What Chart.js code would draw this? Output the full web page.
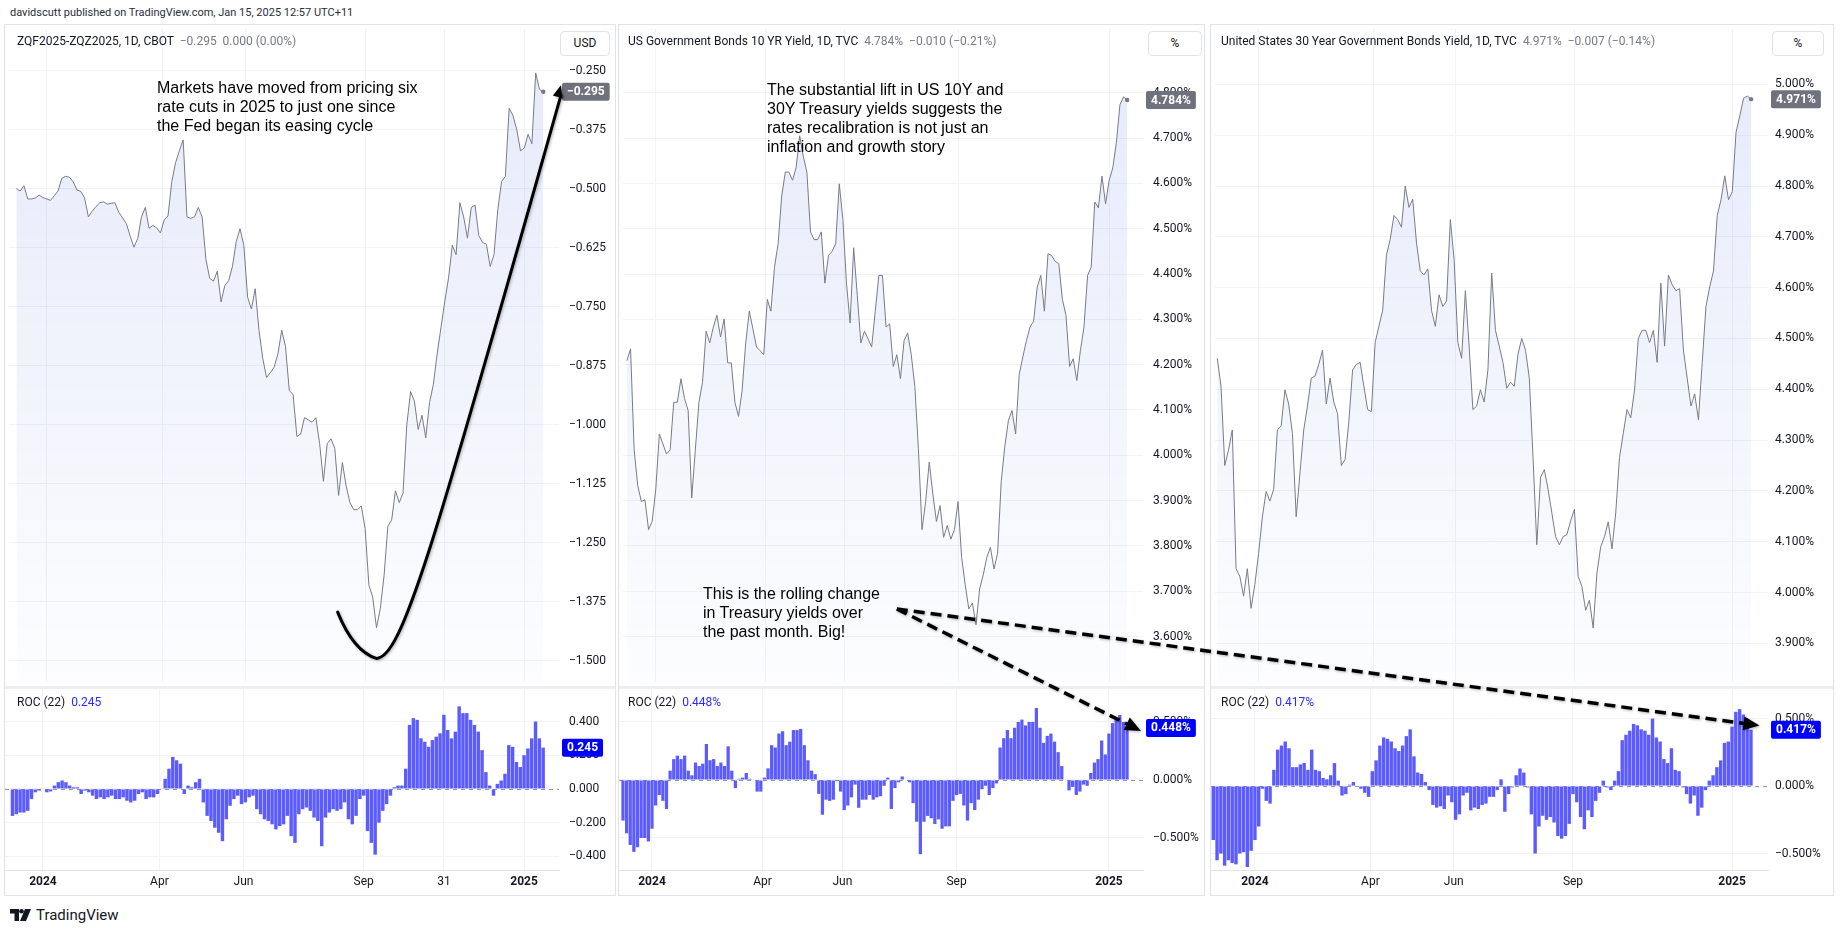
<!DOCTYPE html>
<html>
<head>
<meta charset="utf-8">
<title>Fed pricing vs Treasury yields</title>
<script src="https://cdn.jsdelivr.net/npm/chart.js@4.4.1/dist/chart.umd.min.js"></script>
<style>
  html, body { margin: 0; padding: 0; background: #fff; }
  body { width: 1841px; height: 931px; position: relative; overflow: hidden;
         font-family: Roboto, "Noto Sans", sans-serif; color: #131722; }
  .hdr { position: absolute; left: 10px; top: 5px; font-size: 11px; line-height: 15px; color: #2a2e39; }
  .panel { position: absolute; top: 24px; height: 872px; border: 1px solid #e0e3eb; box-sizing: border-box; }
  .panel canvas { position: absolute; left: 0; }
  .sep { position: absolute; left: 0; right: 0; top: 661px; height: 3px; background: #eceef3; }
  .legend { position: absolute; font-size: 12px; line-height: 16px; white-space: pre; z-index: 2; }
  .legend .v { color: #787b86; }
  .legend .b { color: #2a2aff; }
  .unit { position: absolute; top: 6px; height: 25px; border: 1px solid #e0e3eb; border-radius: 4px;
          box-sizing: border-box; font-size: 12px; line-height: 23px; text-align: center; background: #fff; z-index: 2; }
  .note { position: absolute; font-family: "Liberation Sans", Arial, sans-serif; font-size: 16px; line-height: 19px;
          color: #000; white-space: nowrap; z-index: 3; }
  #overlay { position: absolute; left: 0; top: 0; z-index: 4; pointer-events: none; }
  .logo { position: absolute; left: 10px; top: 906px; height: 18px; display: flex; align-items: center; gap: 5px;
          font-size: 15px; color: #131722; }
</style>
</head>
<body>
<div class="hdr">davidscutt published on TradingView.com, Jan 15, 2025 12:57 UTC+11</div>
<div id="panels"></div>
<div class="note" style="left:157px; top:78px;">Markets have moved from pricing six<br>rate cuts in 2025 to just one since<br>the Fed began its easing cycle</div>
<div class="note" style="left:767px; top:80px;">The substantial lift in US 10Y and<br>30Y Treasury yields suggests the<br>rates recalibration is not just an<br>inflation and growth story</div>
<div class="note" style="left:703px; top:584px;">This is the rolling change<br>in Treasury yields over<br>the past month. Big!</div>
<canvas id="overlay" width="1841" height="931"></canvas>
<div class="logo">
  <svg width="21" height="12" viewBox="0 0 21 12"><path d="M0 0h9v12H4.5V4.5H0z" fill="#131722"/><circle cx="11.5" cy="2.3" r="2.3" fill="#131722"/><path d="M15 0h6l-5 12h-6z" fill="#131722"/></svg>
  <span>TradingView</span>
</div>

<script>
// values, one every 2nd trading day
// x = trading days counted from 2 Jan 2024
const zqStart = -16;
const zqSpread = [
  -0.500, -0.505, -0.494, -0.522, -0.522, -0.520, -0.514, -0.519, -0.522, -0.525,
  -0.515, -0.505, -0.478, -0.474, -0.476, -0.486, -0.503, -0.506, -0.520, -0.560,
  -0.548, -0.538, -0.530, -0.528, -0.533, -0.531, -0.530, -0.550, -0.562, -0.574,
  -0.600, -0.624, -0.606, -0.560, -0.540, -0.584, -0.578, -0.583, -0.594, -0.566,
  -0.558, -0.485, -0.445, -0.420, -0.397, -0.560, -0.563, -0.560, -0.540, -0.560,
  -0.650, -0.690, -0.696, -0.675, -0.740, -0.705, -0.695, -0.665, -0.612, -0.585,
  -0.620, -0.730, -0.755, -0.712, -0.800, -0.860, -0.900, -0.890, -0.878, -0.850,
  -0.800, -0.835, -0.928, -0.936, -1.025, -1.020, -0.985, -0.990, -0.995, -0.985,
  -1.040, -1.120, -1.040, -1.030, -1.050, -1.150, -1.080, -1.130, -1.165, -1.180,
  -1.180, -1.172, -1.220, -1.340, -1.365, -1.430, -1.390, -1.320, -1.215, -1.202,
  -1.140, -1.165, -1.145, -1.000, -0.930, -0.950, -1.010, -0.980, -1.028, -0.953,
  -0.915, -0.850, -0.795, -0.740, -0.690, -0.620, -0.640, -0.530, -0.560, -0.605,
  -0.540, -0.535, -0.600, -0.614, -0.618, -0.665, -0.640, -0.545, -0.485, -0.474,
  -0.330, -0.345, -0.375, -0.420, -0.414, -0.385, -0.405, -0.255, -0.290, -0.295
];
const zqRoc = [
  -0.16, -0.15, -0.14, -0.14, -0.13, -0.06, -0.02, -0.01, 0.00, -0.02,
  -0.015, 0.02, 0.04, 0.05, 0.04, 0.02, 0.01, 0.01, -0.03, -0.01,
  -0.02, -0.04, -0.06, -0.05, -0.06, -0.05, -0.04, -0.06, -0.06, -0.05,
  -0.07, -0.08, -0.07, -0.03, -0.02, -0.06, -0.05, -0.05, -0.03, 0.00,
  0.06, 0.12, 0.19, 0.17, 0.15, -0.03, 0.02, 0.01, 0.04, 0.06,
  -0.08, -0.16, -0.19, -0.23, -0.26, -0.31, -0.18, -0.10, -0.06, -0.04,
  -0.09, -0.08, -0.05, -0.04, -0.12, -0.15, -0.18, -0.19, -0.21, -0.24,
  -0.22, -0.21, -0.16, -0.28, -0.32, -0.15, -0.12, -0.11, -0.13, -0.17,
  -0.19, -0.34, -0.17, -0.14, -0.12, -0.13, -0.12, -0.08, -0.18, -0.21,
  -0.16, -0.06, -0.04, -0.25, -0.32, -0.39, -0.20, -0.13, -0.09, -0.04,
  0.01, 0.02, 0.02, 0.12, 0.38, 0.42, 0.41, 0.30, 0.28, 0.25,
  0.29, 0.31, 0.33, 0.44, 0.35, 0.30, 0.34, 0.49, 0.45, 0.45,
  0.41, 0.38, 0.34, 0.23, 0.10, 0.02, -0.04, 0.03, 0.05, 0.09,
  0.26, 0.25, 0.16, 0.13, 0.20, 0.24, 0.30, 0.40, 0.30, 0.245
];

const us10Start = -16;
const us10Yield = [
  4.209, 4.235, 4.012, 3.933, 3.898, 3.902, 3.836, 3.854, 3.924, 4.047,
  4.025, 4.003, 4.012, 4.117, 4.117, 4.169, 4.125, 4.099, 3.906, 4.012,
  4.117, 4.161, 4.274, 4.248, 4.283, 4.309, 4.261, 4.301, 4.204, 4.204,
  4.117, 4.086, 4.143, 4.248, 4.318, 4.279, 4.239, 4.231, 4.222, 4.344,
  4.318, 4.415, 4.467, 4.572, 4.625, 4.625, 4.607, 4.634, 4.705, 4.660,
  4.625, 4.493, 4.476, 4.476, 4.493, 4.380, 4.441, 4.450, 4.467, 4.599,
  4.520, 4.380, 4.292, 4.458, 4.353, 4.248, 4.274, 4.257, 4.239, 4.318,
  4.397, 4.397, 4.283, 4.290, 4.196, 4.222, 4.169, 4.253, 4.270, 4.222,
  4.152, 4.012, 3.836, 3.898, 3.985, 3.915, 3.854, 3.889, 3.819, 3.845,
  3.815, 3.836, 3.898, 3.775, 3.714, 3.661, 3.674, 3.626, 3.705, 3.736,
  3.775, 3.797, 3.749, 3.784, 3.942, 4.020, 4.077, 4.099, 4.047, 4.178,
  4.217, 4.253, 4.283, 4.296, 4.371, 4.397, 4.318, 4.445, 4.441, 4.428,
  4.423, 4.344, 4.309, 4.196, 4.213, 4.165, 4.231, 4.283, 4.397, 4.415,
  4.559, 4.546, 4.616, 4.555, 4.607, 4.634, 4.690, 4.774, 4.791, 4.784
];
const us10Roc = [
  -0.35, -0.46, -0.56, -0.62, -0.58, -0.50, -0.50, -0.53, -0.42, -0.22,
  -0.13, -0.18, -0.25, 0.08, 0.18, 0.21, 0.18, 0.21, 0.08, 0.04,
  0.15, 0.12, 0.14, 0.31, 0.17, 0.18, 0.12, 0.15, 0.12, 0.29,
  0.08, -0.07, 0.01, 0.02, 0.06, 0.01, 0.00, -0.10, -0.10, 0.02,
  0.10, 0.30, 0.28, 0.40, 0.42, 0.30, 0.33, 0.43, 0.43, 0.44,
  0.30, 0.17, 0.08, 0.05, -0.12, -0.30, -0.17, -0.18, -0.17, -0.01,
  -0.10, -0.26, -0.22, -0.15, -0.04, -0.24, -0.17, -0.17, -0.13, -0.17,
  -0.15, -0.14, -0.05, 0.02, -0.25, -0.07, -0.02, 0.03, 0.00, -0.02,
  -0.20, -0.36, -0.64, -0.36, -0.31, -0.33, -0.38, -0.34, -0.42, -0.40,
  -0.40, -0.18, -0.13, -0.12, -0.22, -0.35, -0.20, -0.26, -0.17, -0.08,
  -0.05, -0.13, -0.07, -0.03, 0.28, 0.36, 0.43, 0.36, 0.45, 0.50,
  0.52, 0.47, 0.50, 0.50, 0.62, 0.45, 0.32, 0.38, 0.40, 0.33,
  0.24, 0.12, 0.00, -0.09, -0.06, -0.13, -0.10, -0.04, -0.05, 0.06,
  0.15, 0.18, 0.34, 0.22, 0.40, 0.49, 0.52, 0.56, 0.50, 0.448
];

const us30Start = -22;
const us30Yield = [
  4.461, 4.406, 4.250, 4.281, 4.320, 4.047, 4.032, 3.993, 4.047, 3.969,
  4.016, 4.077, 4.149, 4.199, 4.180, 4.203, 4.320, 4.328, 4.399, 4.371,
  4.313, 4.149, 4.235, 4.320, 4.367, 4.422, 4.426, 4.449, 4.477, 4.371,
  4.422, 4.375, 4.352, 4.250, 4.262, 4.336, 4.438, 4.449, 4.453, 4.406,
  4.360, 4.356, 4.492, 4.524, 4.555, 4.664, 4.695, 4.742, 4.734, 4.719,
  4.800, 4.758, 4.774, 4.688, 4.633, 4.625, 4.637, 4.555, 4.524, 4.586,
  4.563, 4.574, 4.734, 4.656, 4.492, 4.461, 4.594, 4.485, 4.360, 4.367,
  4.399, 4.375, 4.438, 4.629, 4.516, 4.485, 4.453, 4.402, 4.414, 4.406,
  4.469, 4.500, 4.477, 4.422, 4.266, 4.094, 4.227, 4.242, 4.203, 4.157,
  4.110, 4.094, 4.110, 4.114, 4.141, 4.164, 4.032, 4.012, 3.965, 3.985,
  3.930, 4.039, 4.090, 4.110, 4.139, 4.086, 4.157, 4.266, 4.313, 4.360,
  4.344, 4.399, 4.500, 4.516, 4.516, 4.492, 4.516, 4.453, 4.609, 4.485,
  4.625, 4.606, 4.594, 4.598, 4.477, 4.422, 4.367, 4.391, 4.340, 4.453,
  4.563, 4.602, 4.633, 4.742, 4.773, 4.820, 4.773, 4.789, 4.906, 4.938,
  4.973, 4.977, 4.971
];
const us30Roc = [
  -0.40, -0.55, -0.50, -0.59, -0.55, -0.57, -0.58, -0.50, -0.49, -0.60,
  -0.48, -0.40, -0.30, -0.02, -0.11, -0.13, 0.12, 0.27, 0.30, 0.33,
  0.28, 0.14, 0.14, 0.16, 0.17, 0.12, 0.27, 0.12, 0.11, 0.06,
  0.05, 0.08, 0.17, 0.04, -0.07, -0.06, 0.01, 0.03, 0.00, -0.02,
  -0.05, -0.08, 0.11, 0.19, 0.30, 0.36, 0.35, 0.33, 0.28, 0.26,
  0.30, 0.37, 0.42, 0.22, 0.10, 0.09, 0.03, -0.03, -0.14, -0.16,
  -0.15, -0.17, -0.07, -0.12, -0.25, -0.21, -0.07, -0.05, -0.18, -0.16,
  -0.17, -0.14, -0.13, -0.08, -0.08, -0.03, 0.05, -0.19, -0.06, -0.01,
  0.08, 0.13, 0.10, -0.01, -0.21, -0.50, -0.30, -0.22, -0.25, -0.23,
  -0.27, -0.37, -0.39, -0.37, -0.28, -0.06, -0.12, -0.23, -0.32, -0.18,
  -0.23, -0.11, -0.05, 0.04, -0.01, -0.03, 0.04, 0.11, 0.34, 0.38,
  0.41, 0.46, 0.45, 0.42, 0.41, 0.38, 0.50, 0.36, 0.33, 0.20,
  0.17, 0.28, 0.12, 0.11, -0.01, -0.06, -0.13, -0.07, -0.22, -0.16,
  -0.03, 0.04, 0.08, 0.14, 0.19, 0.32, 0.33, 0.44, 0.55, 0.57,
  0.53, 0.49, 0.417
];

// time axis labels (trading day index -> text)
const zqMonthIdx = [0, 61, 105, 168, 210, 252];
const zqMonthText = ['2024', 'Apr', 'Jun', 'Sep', '31', '2025'];
const monthIdx = [0, 61, 105, 168, 252];
const monthText = ['2024', 'Apr', 'Jun', 'Sep', '2025'];

// price axis ticks
const zqTicks = [-1.5, -1.375, -1.25, -1.125, -1, -0.875, -0.75, -0.625, -0.5, -0.375, -0.25];
const us10Ticks = [3.6, 3.7, 3.8, 3.9, 4.0, 4.1, 4.2, 4.3, 4.4, 4.5, 4.6, 4.7, 4.8];
const us30Ticks = [3.9, 4.0, 4.1, 4.2, 4.3, 4.4, 4.5, 4.6, 4.7, 4.8, 4.9, 5.0];
const zqRocTicks = [-0.4, -0.2, 0, 0.2, 0.4];
const yieldRocTicks = [-0.5, 0, 0.5];

Chart.defaults.font.family = 'Roboto, "Noto Sans", sans-serif';
Chart.defaults.font.size = 12;
Chart.defaults.color = '#131722';

const GRID = '#f0f3fa';
const num3 = v => (v < -1e-9 ? '\u2212' : '') + Math.abs(v).toFixed(3);
const pct3 = v => num3(v) + '%';
const pts = (start, arr) => arr.map((v, i) => ({ x: start + 2 * i, y: v }));
const fixedTicks = list => axis => { axis.ticks = list.map(v => ({ value: v })); };

const panels = [
  { left: 4, width: 612, axisW: 56, pad: 10, xRange: [-19.9, 270.3],
    start: zqStart, level: zqSpread, roc: zqRoc,
    yRange: [-1.545, -0.162], yTicks: zqTicks, fmt: num3,
    rocRange: [-0.481, 0.593], rocTicks: zqRocTicks, rocFmt: num3,
    tickIdx: zqMonthIdx, tickText: zqMonthText,
    name: 'ZQF2025-ZQZ2025, 1D, CBOT', vals: '  \u22120.295  0.000 (0.00%)',
    unit: 'USD', unitLeft: 555, unitW: 50, lx: 12,
    levelMark: '\u22120.295', rocMark: '0.245' },
  { left: 618, width: 587, axisW: 61, pad: 10, xRange: [-18.2, 270.8],
    start: us10Start, level: us10Yield, roc: us10Roc,
    yRange: [3.4998, 4.9407], yTicks: us10Ticks, fmt: pct3,
    rocRange: [-0.776, 0.784], rocTicks: yieldRocTicks, rocFmt: pct3,
    tickIdx: monthIdx, tickText: monthText,
    name: 'US Government Bonds 10 YR Yield, 1D, TVC', vals: '  4.784%  \u22120.010 (\u22120.21%)',
    unit: '%', unitLeft: 529, unitW: 54, lx: 9,
    levelMark: '4.784%', rocMark: '0.448%' },
  { left: 1210, width: 624, axisW: 65, pad: 7, xRange: [-23.2, 271.0],
    start: us30Start, level: us30Yield, roc: us30Roc,
    yRange: [3.824, 5.109], yTicks: us30Ticks, fmt: pct3,
    rocRange: [-0.622, 0.719], rocTicks: yieldRocTicks, rocFmt: pct3,
    tickIdx: monthIdx, tickText: monthText,
    name: 'United States 30 Year Government Bonds Yield, 1D, TVC', vals: '  4.971%  \u22120.007 (\u22120.14%)',
    unit: '%', unitLeft: 561, unitW: 52, lx: 10,
    levelMark: '4.971%', rocMark: '0.417%' }
];

// last value badge on the price axis
const lastMark = {
  id: 'lastMark',
  afterDraw(chart, args, o) {
    const { ctx, chartArea, scales } = chart;
    const y = scales.y.getPixelForValue(o.value);
    ctx.save();
    ctx.font = 'bold 12px Roboto, "Noto Sans", sans-serif';
    const w = ctx.measureText(o.text).width + 10;
    const x = chartArea.right + 3;
    ctx.fillStyle = o.bg;
    ctx.beginPath();
    ctx.roundRect(x, y - 9, w, 18, 2);
    ctx.fill();
    ctx.fillStyle = '#fff';
    ctx.textBaseline = 'middle';
    ctx.fillText(o.text, x + 5, y + 0.5);
    ctx.restore();
  }
};

// dashed zero level of the ROC pane
const zeroLine = {
  id: 'zeroLine',
  beforeDatasetsDraw(chart) {
    const { ctx, chartArea, scales } = chart;
    const y = Math.round(scales.y.getPixelForValue(0)) + 0.5;
    ctx.save();
    ctx.strokeStyle = '#9598a1';
    ctx.lineWidth = 1;
    ctx.setLineDash([4, 4]);
    ctx.beginPath();
    ctx.moveTo(chartArea.left, y);
    ctx.lineTo(chartArea.right, y);
    ctx.stroke();
    ctx.restore();
  }
};

function yAxis(p, range, ticks, fmt) {
  return {
    position: 'right', min: range[0], max: range[1],
    afterBuildTicks: fixedTicks(ticks),
    afterFit: s => { s.width = p.axisW; s.paddingTop = 0; s.paddingBottom = 0; },
    ticks: { padding: p.pad, callback: fmt, color: '#131722' },
    grid: { color: GRID, drawTicks: false },
    border: { display: false }
  };
}

function mainChart(canvas, p) {
  const n = p.level.length;
  return new Chart(canvas, {
    type: 'line',
    data: { datasets: [{
      data: pts(p.start, p.level),
      borderColor: '#787b86',
      borderWidth: 1,
      pointRadius: c => (c.dataIndex === n - 1 ? 2.2 : 0),
      pointBackgroundColor: '#787b86',
      pointBorderWidth: 0,
      tension: 0,
      fill: 'start',
      backgroundColor: c => {
        const a = c.chart.chartArea;
        if (!a) return 'rgba(0,0,0,0)';
        const g = c.chart.ctx.createLinearGradient(0, a.top, 0, a.bottom);
        g.addColorStop(0, 'rgba(56,88,214,0.13)');
        g.addColorStop(1, 'rgba(56,88,214,0.01)');
        return g;
      }
    }]},
    options: {
      responsive: false, animation: false, events: [],
      layout: { padding: 0 },
      plugins: {
        legend: { display: false }, tooltip: { enabled: false },
        lastMark: { value: p.level[n - 1], text: p.levelMark, bg: '#6f727d' }
      },
      scales: {
        x: { type: 'linear', min: p.xRange[0], max: p.xRange[1],
             afterBuildTicks: fixedTicks(p.tickIdx),
             afterFit: s => { s.height = 0; s.paddingLeft = 0; s.paddingRight = 0; },
             ticks: { display: false },
             grid: { color: GRID, drawTicks: false },
             border: { display: false } },
        y: yAxis(p, p.yRange, p.yTicks, p.fmt)
      }
    },
    plugins: [lastMark]
  });
}

function rocChart(canvas, p) {
  const n = p.roc.length;
  return new Chart(canvas, {
    type: 'bar',
    data: { datasets: [{
      data: pts(p.start, p.roc),
      backgroundColor: '#5b5bff',
      barPercentage: 1,
      categoryPercentage: 0.9
    }]},
    options: {
      responsive: false, animation: false, events: [],
      layout: { padding: 0 },
      plugins: {
        legend: { display: false }, tooltip: { enabled: false },
        lastMark: { value: p.roc[n - 1], text: p.rocMark, bg: '#0000ff' }
      },
      scales: {
        x: { type: 'linear', offset: false, min: p.xRange[0], max: p.xRange[1],
             afterBuildTicks: fixedTicks(p.tickIdx),
             afterFit: s => { s.height = 25; s.paddingLeft = 0; s.paddingRight = 0; },
             ticks: {
               autoSkip: false, maxRotation: 0, padding: 5, color: '#131722',
               callback: v => p.tickText[p.tickIdx.indexOf(v)],
               font: c => ({ size: 12, weight: /^20/.test(p.tickText[c.index] || '') ? 'bold' : 'normal' })
             },
             grid: { color: GRID, drawTicks: false, offset: false },
             border: { display: true, color: '#e0e3eb' } },
        y: yAxis(p, p.rocRange, p.rocTicks, p.rocFmt)
      }
    },
    plugins: [zeroLine, lastMark]
  });
}

const host = document.getElementById('panels');
const charts = panels.map(p => {
  const box = document.createElement('div');
  box.className = 'panel';
  box.style.left = p.left + 'px';
  box.style.width = p.width + 'px';
  const w = p.width - 2;
  box.innerHTML =
    `<canvas class="m" width="${w}" height="661" style="top:0"></canvas>` +
    `<div class="sep"></div>` +
    `<canvas class="r" width="${w}" height="206" style="top:664px"></canvas>` +
    `<div class="legend" style="left:${p.lx}px; top:8px;">${p.name}<span class="v">${p.vals}</span></div>` +
    `<div class="legend" style="left:${p.lx}px; top:669px;">ROC (22)  <span class="b">${p.rocMark}</span></div>` +
    `<div class="unit" style="left:${p.unitLeft}px; width:${p.unitW}px;">${p.unit}</div>`;
  host.appendChild(box);
  return { main: mainChart(box.querySelector('.m'), p), roc: rocChart(box.querySelector('.r'), p) };
});

// ---- hand-drawn annotations, anchored in each chart's data space ----
function page(chart, x, y) {
  const r = chart.canvas.getBoundingClientRect();
  return [r.left + chart.scales.x.getPixelForValue(x), r.top + chart.scales.y.getPixelForValue(y)];
}
function head(g, from, to, len, half) {
  const a = Math.atan2(to[1] - from[1], to[0] - from[0]);
  const c = Math.cos(a), s = Math.sin(a);
  g.beginPath();
  g.moveTo(to[0], to[1]);
  g.lineTo(to[0] - len * c + half * s, to[1] - len * s - half * c);
  g.lineTo(to[0] - len * c - half * s, to[1] - len * s + half * c);
  g.closePath();
  g.fill();
}

const g = document.getElementById('overlay').getContext('2d');
g.strokeStyle = '#000';
g.fillStyle = '#000';
g.lineCap = 'round';
g.shadowColor = 'rgba(0,0,0,0.3)';
g.shadowBlur = 3;
g.shadowOffsetX = 1;
g.shadowOffsetY = 1;

// swoosh in the fed funds spread pane
const m1 = charts[0].main;
const c0 = page(m1, 153.5, -1.397), c1 = page(m1, 161.9, -1.480), c2 = page(m1, 173.9, -1.495);
const c3 = page(m1, 187.0, -1.495), c4 = page(m1, 202.7, -1.2815), c5 = page(m1, 271.3, -0.2813);
g.lineWidth = 3;
g.beginPath();
g.moveTo(c0[0], c0[1]);
g.quadraticCurveTo(c1[0], c1[1], c2[0], c2[1]);
g.bezierCurveTo(c3[0], c3[1], c4[0], c4[1], c5[0], c5[1] + 10);
g.stroke();
head(g, c4, c5, 12, 5);

// dashed pointers from the note to the two ROC readings
const s0 = page(charts[1].main, 134.0, 3.661);
const ends = [page(charts[1].roc, 269.7, 0.422), page(charts[2].roc, 266.5, 0.448)];
ends.forEach(e => {
  const a = Math.atan2(e[1] - s0[1], e[0] - s0[0]);
  g.lineWidth = 3.5;
  g.lineCap = 'butt';
  g.setLineDash([11, 6]);
  g.beginPath();
  g.moveTo(s0[0], s0[1]);
  g.lineTo(e[0] - 12 * Math.cos(a), e[1] - 12 * Math.sin(a));
  g.stroke();
  g.setLineDash([]);
  head(g, s0, e, 16, 7);
});
</script>
</body>
</html>
